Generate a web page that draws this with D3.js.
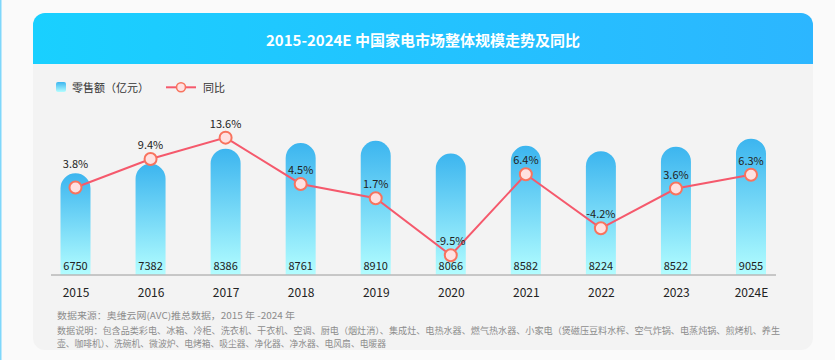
<!DOCTYPE html>
<html><head><meta charset="utf-8">
<script src="https://cdn.jsdelivr.net/npm/d3@7"></script>
<style>html,body{margin:0;padding:0;background:#fafafa;}svg{display:block;}</style>
</head><body>
<svg id="chart" width="835" height="360"></svg>
<script>
const years = ["2015","2016","2017","2018","2019","2020","2021","2022","2023","2024E"];
const sales = [6750,7382,8386,8761,8910,8066,8582,8224,8522,9055];
const yoy = [3.8,9.4,13.6,4.5,1.7,-9.5,6.4,-4.2,3.6,6.3];
const title = "2015-2024E 中国家电市场整体规模走势及同比";
const legendLabels = ["零售额（亿元）","同比"];
const notes = [
  "数据来源：奥维云网(AVC)推总数据，2015 年 -2024 年",
  "数据说明：包含品类彩电、冰箱、冷柜、洗衣机、干衣机、空调、厨电（烟灶消）、集成灶、电热水器、燃气热水器、小家电（煲磁压豆料水榨、空气炸锅、电蒸炖锅、煎烤机、养生",
  "壶、咖啡机）、洗碗机、微波炉、电烤箱、吸尘器、净化器、净水器、电风扇、电暖器"
];

const FONT = "'Noto Sans CJK SC','Noto Sans',sans-serif";
const svg = d3.select("#chart");
const defs = svg.append("defs");

const hg = defs.append("linearGradient").attr("id","hdr").attr("x1",0).attr("x2",1).attr("y1",0).attr("y2",0);
hg.append("stop").attr("offset",0).attr("stop-color","#19d0ff");
hg.append("stop").attr("offset",1).attr("stop-color","#2cb6ff");
const bg = defs.append("linearGradient").attr("id","bar").attr("x1",0).attr("x2",0).attr("y1",0).attr("y2",1);
bg.append("stop").attr("offset",0).attr("stop-color","#3cb5ef");
bg.append("stop").attr("offset",1).attr("stop-color","#b2fdff");

// page background + left edge line
svg.append("rect").attr("width",835).attr("height",360).attr("fill","#fafafa");
svg.append("rect").attr("x",0).attr("y",0).attr("width",1.5).attr("height",360).attr("fill","#7fd7fb");

// card
const cx0 = 33, cy0 = 13, cw = 780, ch = 337, r = 12, hh = 51;
svg.append("rect").attr("x",cx0).attr("y",cy0).attr("width",cw).attr("height",ch).attr("rx",r).attr("fill","#f3f3f3");
svg.append("path").attr("fill","url(#hdr)")
  .attr("d",`M${cx0},${cy0+hh} V${cy0+r} A${r},${r} 0 0 1 ${cx0+r},${cy0} H${cx0+cw-r} A${r},${r} 0 0 1 ${cx0+cw},${cy0+r} V${cy0+hh} Z`);
svg.append("text").attr("x",cx0+cw/2).attr("y",cy0+33).attr("text-anchor","middle")
  .attr("fill","#fff").attr("font-family",FONT).attr("font-size",15).attr("font-weight","bold").text(title);

// legend
const lg = svg.append("g").attr("font-family",FONT).attr("font-size",11).attr("fill","#333");
lg.append("rect").attr("x",56).attr("y",82).attr("width",10).attr("height",10).attr("rx",2).attr("fill","url(#bar)");
lg.append("text").attr("x",72).attr("y",91.5).text(legendLabels[0]);
lg.append("line").attr("x1",166).attr("x2",196).attr("y1",87.3).attr("y2",87.3).attr("stroke","#f5596c").attr("stroke-width",2);
lg.append("circle").attr("cx",181).attr("cy",87.3).attr("r",4.5).attr("fill","#ffe1e1").attr("stroke","#f8735e").attr("stroke-width",1.6);
lg.append("text").attr("x",203).attr("y",91.5).text(legendLabels[1]);

// scales
const x = d3.scalePoint().domain(years).range([75.5, 751]);
const base = 274.5;
const y = d3.scaleLinear().domain([0, 10000]).range([base, base-150]);
const y2 = d3.scaleLinear().domain([-10, 15]).range([257.8, 130.5]);
const bw = 30, br = bw/2;

// bars
svg.append("g").selectAll("path").data(years).join("path")
  .attr("fill","url(#bar)")
  .attr("d",(d,i)=>{
    const c = x(d), t = y(sales[i]);
    return `M${c-br},${base} V${t+br} A${br},${br} 0 0 1 ${c+br},${t+br} V${base} Z`;
  });

// bar value labels
svg.append("g").attr("font-family",FONT).attr("font-size",11).attr("fill","#222").attr("text-anchor","middle")
  .selectAll("text").data(years).join("text")
  .attr("x",d=>x(d)).attr("y",base-5).text((d,i)=>sales[i]);

// baseline
svg.append("line").attr("x1",51).attr("x2",776).attr("y1",base+0.5).attr("y2",base+0.5).attr("stroke","#9a9a9a").attr("stroke-width",1);

// x axis
const ax = svg.append("g").attr("transform",`translate(0,${base})`)
  .call(d3.axisBottom(x).tickSize(0).tickPadding(14));
ax.select(".domain").remove();
ax.selectAll("text").attr("font-family",FONT).attr("font-size",12).attr("fill","#222");

// line
const line = d3.line().x((d,i)=>x(years[i])).y(d=>y2(d));
svg.append("path").datum(yoy).attr("d",line).attr("fill","none").attr("stroke","#f5596c").attr("stroke-width",2);
svg.append("g").selectAll("circle").data(yoy).join("circle")
  .attr("cx",(d,i)=>x(years[i])).attr("cy",d=>y2(d)).attr("r",6)
  .attr("fill","#ffe1e1").attr("stroke","#f8735e").attr("stroke-width",2);
svg.append("g").attr("font-family",FONT).attr("font-size",11).attr("fill","#222").attr("text-anchor","middle")
  .selectAll("text").data(yoy).join("text")
  .attr("x",(d,i)=>x(years[i]))
  .attr("y",(d,i)=>y2(d) - (i===0 ? 20 : 10))
  .text(d=>d.toFixed(1)+"%");

// notes
const nt = svg.append("g").attr("font-family",FONT).attr("font-size",9).attr("fill","#8c8c8c");
const noteY = [318.5, 333.5, 346.5];
const noteLen = [238, 723, 329];
notes.forEach((s,i)=>{
  nt.append("text").attr("x",57).attr("y",noteY[i]).attr("textLength",noteLen[i]).attr("lengthAdjust","spacingAndGlyphs").text(s);
});
</script>
</body></html>
